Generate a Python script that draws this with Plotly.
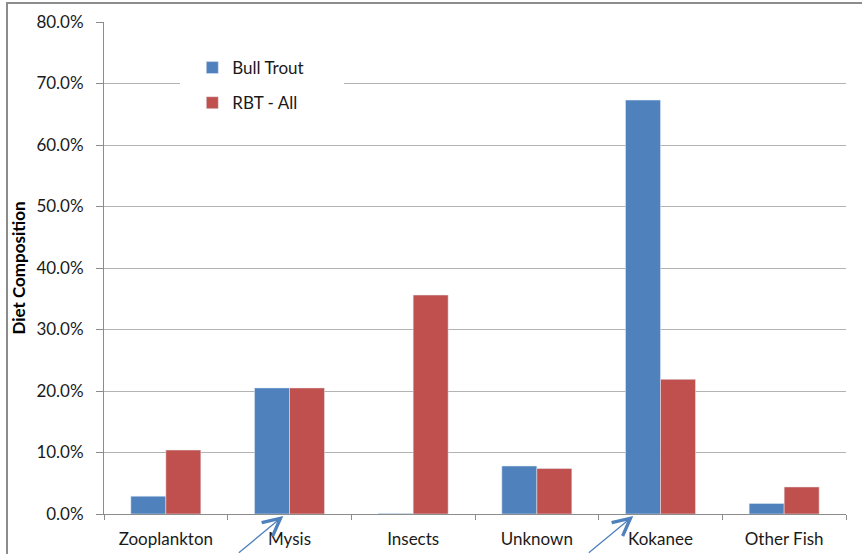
import plotly.graph_objects as go

# Diet composition by prey category
categories = ["Zooplankton", "Mysis", "Insects", "Unknown", "Kokanee", "Other Fish"]
bull_trout = [0.029, 0.205, 0.001, 0.078, 0.673, 0.017]
rbt_all = [0.104, 0.205, 0.356, 0.074, 0.219, 0.044]
y_ticks = [0.0, 0.1, 0.2, 0.3, 0.4, 0.5, 0.6, 0.7, 0.8]

BLUE = "#4F81BD"
RED = "#C0504D"
FONT = "Lato, 'Open Sans', sans-serif"

fig = go.Figure()
fig.add_trace(go.Bar(name="Bull Trout", x=categories, y=bull_trout,
                     marker=dict(color=BLUE), legendgroup="a"))
fig.add_trace(go.Bar(name="RBT - All", x=categories, y=rbt_all,
                     marker=dict(color=RED), legendgroup="b"))

# Arrows highlighting Mysis and Kokanee
for cat_idx, tip in [(1, -0.05), (4, -0.22)]:
    fig.add_annotation(x=cat_idx + tip, y=-0.004, xref="x", yref="paper",
                       text="", showarrow=True, arrowhead=5, arrowsize=2.6,
                       arrowwidth=1.3, arrowcolor=BLUE,
                       ax=-46, ay=46)

# Outer chart frame
fig.add_shape(type="rect", xref="paper", yref="paper",
              x0=(7 - 104) / 742, x1=1.2, y0=-0.2, y1=(514 - 3) / 492,
              line=dict(color="#8c8c8c", width=2), fillcolor="rgba(0,0,0,0)")

# White backing behind the legend block (hides the gridline there)
fig.add_shape(type="rect", xref="paper", yref="paper", layer="above",
              x0=(180 - 104) / 742, x1=(344 - 104) / 742,
              y0=(514 - 88) / 492, y1=(514 - 78) / 492,
              line=dict(width=0), fillcolor="white")

fig.update_layout(
    width=862, height=554,
    margin=dict(l=104, r=16, t=22, b=40),
    paper_bgcolor="white", plot_bgcolor="white",
    barmode="group", bargap=0.434, bargroupgap=0,
    font=dict(family=FONT, size=17, color="#1a1a1a"),
    showlegend=True,
    legend=dict(x=0.119, y=0.943, xanchor="left", yanchor="top",
                bgcolor="rgba(0,0,0,0)", font=dict(size=17),
                tracegroupgap=10, itemwidth=30),
    xaxis=dict(showline=True, linecolor="#8c8c8c", linewidth=1,
               ticks="outside", tickson="boundaries", ticklen=5,
               tickcolor="#8c8c8c", showgrid=False, automargin=False,
               ticklabelstandoff=10,
               tickfont=dict(size=17)),
    yaxis=dict(range=[0, 0.8], tickvals=y_ticks, tickformat=".1%",
               showline=True, linecolor="#8c8c8c", linewidth=1,
               ticks="outside", ticklen=7, tickcolor="#8c8c8c",
               showgrid=True, gridcolor="#b3b3b3", gridwidth=1,
               zeroline=False, ticklabelstandoff=9, automargin=False,
               tickfont=dict(size=17),
               title=dict(text="<b>Diet Composition</b>",
                          font=dict(size=17, color="#000000"),
                          standoff=6)),
)

fig.write_html("out.html")
